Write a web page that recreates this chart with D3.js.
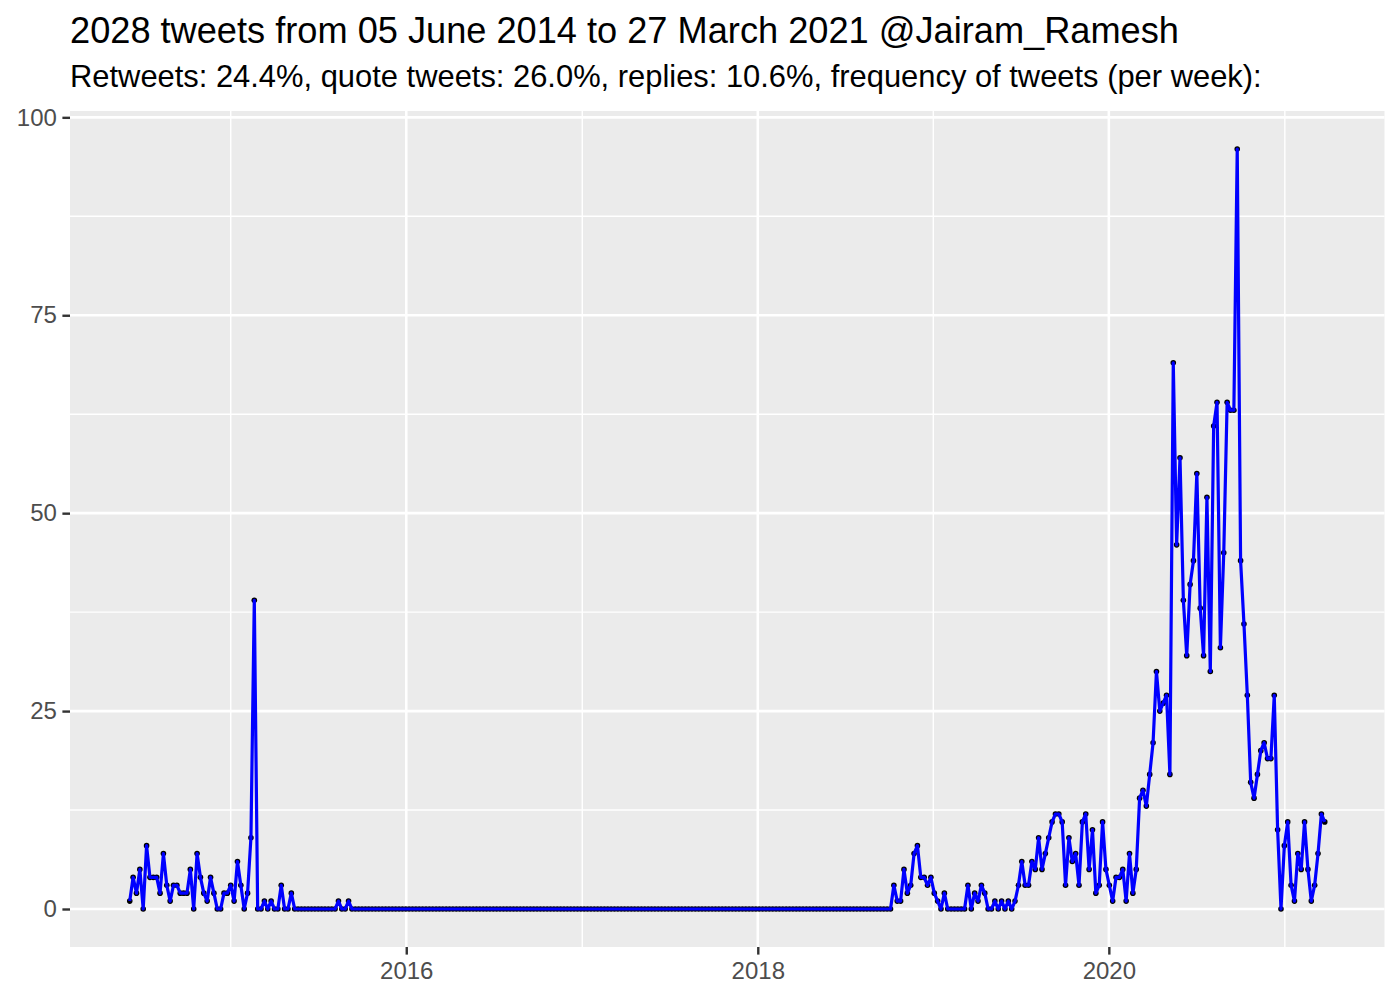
<!DOCTYPE html>
<html>
<head>
<meta charset="utf-8">
<script src="https://cdn.jsdelivr.net/npm/d3@7"></script>
<style>
  html, body { margin: 0; padding: 0; background: #ffffff; }
  svg { display: block; }
  text { font-family: "Liberation Sans", Arial, Helvetica, sans-serif; }
</style>
</head>
<body>
<svg id="chart" width="1400" height="1000"></svg>
<script>
// ---- Data (weekly tweet counts, one value per week starting 05 June 2014) ----
const startDate = "2014-06-05";
const weeklyCounts2014 = [1,4,2,5,0,8,4,4,4,2,7,3,1,3,3,2,2,2,5,0,7,4,2,1,4];
const weeklyCounts2015 = [2,0,0,2,2,3,1,6,3,0,2,9,39,0,0,1,0,1,0,0,3,0,0,2,
  0,0,0,0,0,0,0,0,0,0,0,0,0, 1,0,0,1];
const weeklyCountsQuiet = [
  0,0,0,0,0,0,0,0,0,0,0,0,0,0,0,0,0,0,0,0,
  0,0,0,0,0,0,0,0,0,0,0,0,0,0,0,0,0,0,0,0,
  0,0,0,0,0,0,0,0,0,0,0,0,0,0,0,0,0,0,0,0,
  0,0,0,0,0,0,0,0,0,0,0,0,0,0,0,0,0,0,0,0,
  0,0,0,0,0,0,0,0,0,0,0,0,0,0,0,0,0,0,0,0,
  0,0,0,0,0,0,0,0,0,0,0,0,0,0,0,0,0,0,0,0,
  0,0,0,0,0,0,0,0,0,0,0,0,0,0,0,0,0,0,0,0,
  0,0,0,0,0,0,0,0,0,0,0,0,0,0,0,0,0,0,0,0,
  0];
const weeklyCounts2018_2020 = [3,1,1,5,2,3,7,8,4,4,
  3,4,2,1,0,2,0,0,0,0,
  0,0,3,0,2,1,3,2,0,0,
  1,0,1,0,1,0,1,3,6,3,
  3,6,5,9,5,7,9,11,12,12,
  11,3,9,6,7,3,11,12,5,10,
  2,3,11,5,3,1,4,4,5,1,
  7,2,5,14,15,13,17,21,30,25,
  26,27,17];
const weeklyCounts2020_2021 = [69,46,57,39,32,41,44,55,38,32,
  52,30,61,64,33,45,64,63,63,96,
  44,36,27,16,14,17,20,21,19,19,
  27,10,0,8,11,3,1,7,5,11,
  5,1,3,7,12,11];

const xMajorYears = [2016, 2018, 2020];
const xMinorYears = [2015, 2017, 2019, 2021];
const yMajorTicks = [0, 25, 50, 75, 100];
const yMinorTicks = [12.5, 37.5, 62.5, 87.5];

const titleText = "2028 tweets from 05 June 2014 to 27 March 2021 @Jairam_Ramesh";
const subtitleText = "Retweets: 24.4%, quote tweets: 26.0%, replies: 10.6%, frequency of tweets (per week):";

// ---- Build table ----
const counts = [].concat(weeklyCounts2014, weeklyCounts2015, weeklyCountsQuiet,
                         weeklyCounts2018_2020, weeklyCounts2020_2021);
const t0 = new Date(startDate + "T00:00:00Z");
const data = counts.map((v, i) => ({ date: d3.utcDay.offset(t0, 7 * i), value: v }));

// ---- Layout ----
const svg = d3.select("#chart");
const panel = { left: 70, right: 1384.5, top: 111, bottom: 947 };

const tExtent = d3.extent(data, d => d.date);
const tPad = (tExtent[1] - tExtent[0]) * 0.05;
const x = d3.scaleUtc()
  .domain([new Date(+tExtent[0] - tPad), new Date(+tExtent[1] + tPad)])
  .range([panel.left, panel.right]);

const vMax = d3.max(data, d => d.value);
const vPad = vMax * 0.05;
const y = d3.scaleLinear()
  .domain([0 - vPad, vMax + vPad])
  .range([panel.bottom, panel.top]);

// panel background
svg.append("rect")
  .attr("x", panel.left).attr("y", panel.top)
  .attr("width", panel.right - panel.left)
  .attr("height", panel.bottom - panel.top)
  .attr("fill", "#EBEBEB");

const grid = svg.append("g");
const yearDate = yr => new Date(Date.UTC(yr, 0, 1));

// minor grid
grid.selectAll(".ymin").data(yMinorTicks).join("line")
  .attr("x1", panel.left).attr("x2", panel.right)
  .attr("y1", d => y(d)).attr("y2", d => y(d))
  .attr("stroke", "#ffffff").attr("stroke-width", 1.4);
grid.selectAll(".xmin").data(xMinorYears).join("line")
  .attr("y1", panel.top).attr("y2", panel.bottom)
  .attr("x1", d => x(yearDate(d))).attr("x2", d => x(yearDate(d)))
  .attr("stroke", "#ffffff").attr("stroke-width", 1.4);
// major grid
grid.selectAll(".ymaj").data(yMajorTicks).join("line")
  .attr("x1", panel.left).attr("x2", panel.right)
  .attr("y1", d => y(d)).attr("y2", d => y(d))
  .attr("stroke", "#ffffff").attr("stroke-width", 2.6);
grid.selectAll(".xmaj").data(xMajorYears).join("line")
  .attr("y1", panel.top).attr("y2", panel.bottom)
  .attr("x1", d => x(yearDate(d))).attr("x2", d => x(yearDate(d)))
  .attr("stroke", "#ffffff").attr("stroke-width", 2.6);

// points (under the line)
svg.append("g").selectAll("circle").data(data).join("circle")
  .attr("cx", d => x(d.date))
  .attr("cy", d => y(d.value))
  .attr("r", 2.8)
  .attr("fill", "#000000");

// line
const line = d3.line().x(d => x(d.date)).y(d => y(d.value));
svg.append("path")
  .datum(data)
  .attr("d", line)
  .attr("fill", "none")
  .attr("stroke", "#0000FF")
  .attr("stroke-width", 3.2)
  .attr("stroke-linejoin", "round");

// axes
const xAxis = d3.axisBottom(x)
  .tickValues(xMajorYears.map(yearDate))
  .tickFormat(d3.utcFormat("%Y"))
  .tickSize(7.6).tickPadding(7);
const gx = svg.append("g").attr("transform", `translate(0,${panel.bottom})`).call(xAxis);

const yAxis = d3.axisLeft(y)
  .tickValues(yMajorTicks)
  .tickSize(7.6).tickPadding(5.5);
const gy = svg.append("g").attr("transform", `translate(${panel.left},0)`).call(yAxis);

[gx, gy].forEach(g => {
  g.select(".domain").remove();
  g.selectAll(".tick line").attr("stroke", "#333333").attr("stroke-width", 2.4);
  g.selectAll(".tick text")
    .attr("fill", "#4D4D4D")
    .style("font-size", "24px")
    .style("font-family", '"Liberation Sans", Arial, sans-serif');
});

// titles
svg.append("text")
  .attr("x", panel.left).attr("y", 43)
  .attr("fill", "#000000")
  .style("font-size", "36.2px")
  .text(titleText);
svg.append("text")
  .attr("x", panel.left).attr("y", 87)
  .attr("fill", "#000000")
  .style("font-size", "30.9px")
  .text(subtitleText);
</script>
</body>
</html>
